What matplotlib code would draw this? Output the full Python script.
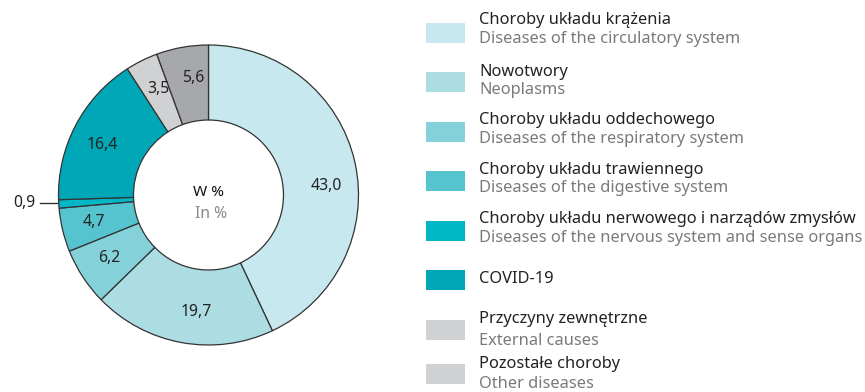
import matplotlib.pyplot as plt
from matplotlib.patches import Rectangle
import numpy as np

plt.rcParams['font.family'] = ['Noto Sans', 'DejaVu Sans']

# death causes, share in %
labels_pl = ['Choroby układu krążenia', 'Nowotwory', 'Choroby układu oddechowego',
             'Choroby układu trawiennego', 'Choroby układu nerwowego i narządów zmysłów',
             'COVID-19', 'Przyczyny zewnętrzne', 'Pozostałe choroby']
labels_en = ['Diseases of the circulatory system', 'Neoplasms', 'Diseases of the respiratory system',
             'Diseases of the digestive system', 'Diseases of the nervous system and sense organs',
             '', 'External causes', 'Other diseases']
values = [43.0, 19.7, 6.2, 4.7, 0.9, 16.4, 3.5, 5.6]
colors = ['#c8e8ef', '#acdde3', '#84d1da', '#55c4ce', '#00b7c6', '#00a7b7', '#d0d1d3', '#a7a8ab']
legend_colors = colors[:7] + ['#d0d1d3']

# small angular nudges (deg) for the value labels
label_shift = [-8, 4.5, -1, 0, 0, 2.5, -1, -2.5]

W, H = 865, 392
fig = plt.figure(figsize=(W / 100, H / 100), dpi=100)

# donut
cx, cy, r = 208.5, 195, 151.5
ax = fig.add_axes([(cx - r) / W, (H - cy - r) / H, 2 * r / W, 2 * r / H])
wedges, _ = ax.pie(values, colors=colors, startangle=90, counterclock=False, radius=1,
                   wedgeprops=dict(width=0.5, edgecolor='#333333', linewidth=0.9))
ax.set_xlim(-1.01, 1.01)
ax.set_ylim(-1.01, 1.01)
ax.axis('off')

def fmt(v):
    return f'{v:.1f}'.replace('.', ',')

for w, v, s in zip(wedges, values, label_shift):
    ang = np.deg2rad((w.theta1 + w.theta2) / 2 + s)
    x, y = np.cos(ang), np.sin(ang)
    if v < 2:
        y = -0.055
        ax.plot([-1.013, -1.125], [y, y], color='#333333', lw=1, clip_on=False)
        ax.text(-1.155, y, fmt(v), ha='right', va='center', fontsize=11.3, color='#222222')
    else:
        ax.text(0.785 * x, 0.785 * y, fmt(v), ha='center', va='center', fontsize=11.3, color='#222222')

ax.text(0, 0.015, 'W %', ha='center', va='center', fontsize=11, color='#111111', fontweight='semibold')
ax.text(0.02, -0.13, 'In %', ha='center', va='center', fontsize=11.3, color='#888888')

# legend
lg = fig.add_axes([0, 0, 1, 1])
lg.set_xlim(0, W)
lg.set_ylim(H, 0)
lg.axis('off')
rows = [(20, 39, 33), (72, 90, 82), (120, 139, 132), (170, 188, 181),
        (219, 238, 231), (279, None, 280), (319, 341, 330), (364, 384, 374)]
for (ypl, yen, ysw), pl, en, c in zip(rows, labels_pl, labels_en, legend_colors):
    lg.add_patch(Rectangle((426, ysw - 10), 39, 20, facecolor=c, edgecolor='none'))
    lg.text(479, ypl, pl, ha='left', va='center', fontsize=11.8, color='#222222')
    if en:
        lg.text(479, yen, en, ha='left', va='center', fontsize=11.8, color='#7a7a7a')

fig.savefig('out.png', dpi=100)
